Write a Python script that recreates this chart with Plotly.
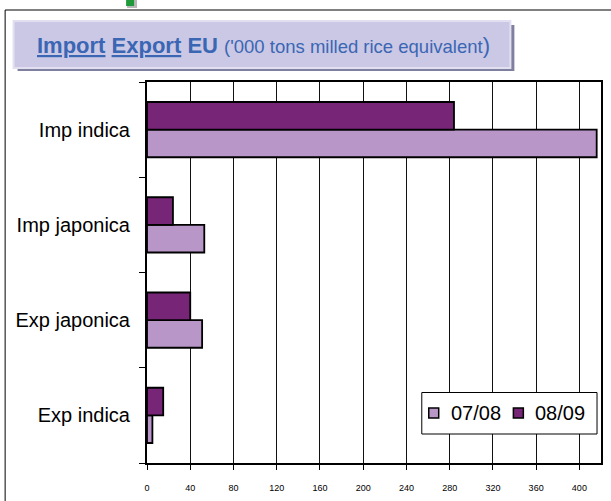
import plotly.graph_objects as go

categories = ["Imp indica", "Imp japonica", "Exp japonica", "Exp indica"]
series_0708 = [416, 53, 51, 5]
series_0809 = [284, 24, 40, 15]
series_names = ["07/08", "08/09"]
series_colors = ["#b897c8", "#772577"]
x_ticks = [0, 40, 80, 120, 160, 200, 240, 280, 320, 360, 400]

W, H = 611, 501
L, R, T, B = 147, 8, 82, 38
PW, PH = W - L - R, H - T - B


def px(x):
    return (x - L) / PW


def py(y):
    return (H - B - y) / PH


fig = go.Figure()
for name, vals, col in zip(series_names, [series_0708, series_0809], series_colors):
    fig.add_trace(go.Bar(
        y=categories, x=vals, name=name, orientation="h", showlegend=False,
        marker=dict(color=col, line=dict(color="#000000", width=1.8)),
    ))

shapes = [
    # outer frame
    dict(type="rect", xref="paper", yref="paper", x0=px(4.5), x1=px(640), y0=py(10), y1=py(540),
         line=dict(color="#000000", width=1), fillcolor="rgba(0,0,0,0)", layer="below"),
    # title shadow
    dict(type="rect", xref="paper", yref="paper", x0=px(17), x1=px(516), y0=py(25), y1=py(71),
         line=dict(width=0), fillcolor="#7f7f9f", layer="below"),
    # title box
    dict(type="rect", xref="paper", yref="paper", x0=px(13), x1=px(512), y0=py(21), y1=py(68),
         line=dict(color="#e2e0f0", width=2), fillcolor="#cac8e4", layer="below"),
    # green handle
    dict(type="rect", xref="paper", yref="paper", x0=px(127), x1=px(137), y0=py(0), y1=py(8),
         line=dict(width=0), fillcolor="#b8b8b8", layer="below"),
    dict(type="rect", xref="paper", yref="paper", x0=px(126), x1=px(134), y0=py(-2), y1=py(6),
         line=dict(width=0), fillcolor="#1f9a3a", layer="below"),
    # legend box
    dict(type="rect", xref="paper", yref="paper", x0=px(423), x1=px(599), y0=py(392.5), y1=py(434),
         line=dict(color="#000000", width=1), fillcolor="#ffffff", layer="above"),
]

annotations = [
    dict(xref="paper", yref="paper", x=px(264), y=py(46), xanchor="center", yanchor="middle",
         showarrow=False,
         text="<b><u>Import</u> <u>Export</u> EU</b> <span style='font-size:18.5px'>('000 tons milled rice equivalent</span>)",
         font=dict(family="Liberation Sans, Arial", size=22, color="#3a66b4")),
]

legend_sym_x = [430, 515]
for name, col, sx in zip(series_names, series_colors, legend_sym_x):
    shapes.append(dict(type="rect", xref="paper", yref="paper", x0=px(sx), x1=px(sx + 10),
                       y0=py(408), y1=py(418), line=dict(color="#000000", width=1.5),
                       fillcolor=col, layer="above"))
    annotations.append(dict(xref="paper", yref="paper", x=px(sx + 20), y=py(413), xanchor="left",
                            yanchor="middle", showarrow=False, text=name,
                            font=dict(family="Liberation Sans, Arial", size=20, color="#000000")))

fig.update_layout(
    width=W, height=H,
    margin=dict(l=L, r=R, t=T, b=B, pad=0),
    paper_bgcolor="#ffffff", plot_bgcolor="#ffffff",
    barmode="group", bargap=0.42, bargroupgap=0,
    font=dict(family="Liberation Sans, Arial", color="#000000"),
    shapes=shapes, annotations=annotations,
    showlegend=False,
)

fig.update_xaxes(
    range=[0, 420], tickvals=x_ticks, ticktext=[str(v) for v in x_ticks],
    showgrid=True, gridcolor="#111111", gridwidth=1,
    showline=True, linecolor="#000000", linewidth=2, mirror=True,
    ticks="outside", ticklen=5, tickcolor="#000000", tickwidth=1,
    tickfont=dict(size=9, color="#000000"), ticklabelstandoff=10, zeroline=False, fixedrange=True,
)
fig.update_yaxes(
    categoryorder="array", categoryarray=categories[::-1],
    showgrid=False, showline=True, linecolor="#000000", linewidth=2, mirror=True,
    ticks="outside", tickson="boundaries", ticklen=6, tickcolor="#000000", tickwidth=1,
    tickfont=dict(size=20, color="#000000"), ticklabelstandoff=11, fixedrange=True,
)

fig.write_html("out.html", config={"displayModeBar": False})

with open("out.html", "r", encoding="utf-8") as f:
    html = f.read()
html = html.replace("<head>", "<head><style>html,body{margin:0;padding:0;overflow:hidden;}</style>", 1)
with open("out.html", "w", encoding="utf-8") as f:
    f.write(html)
